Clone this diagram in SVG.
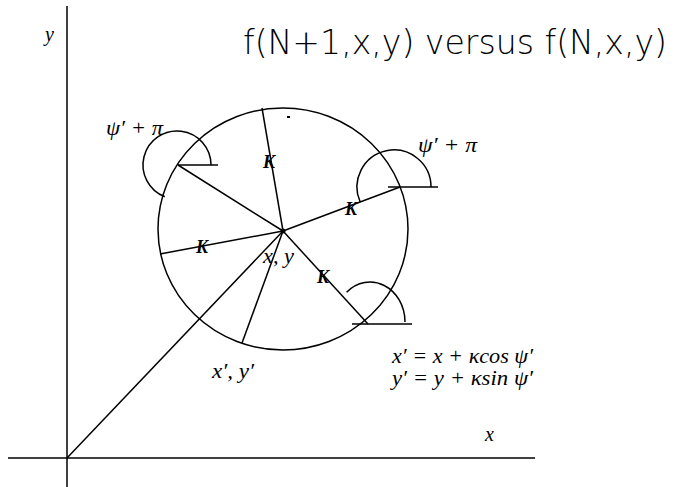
<svg xmlns="http://www.w3.org/2000/svg" width="675" height="487" viewBox="0 0 675 487">
<style>
.ln{stroke:#000;stroke-width:1.5;fill:none}
.lbl{font-family:"Liberation Serif","DejaVu Serif",serif;font-style:italic;font-size:20px;fill:#000}
.k{font-family:"Liberation Serif","DejaVu Serif",serif;font-style:italic;font-weight:bold;font-size:18px;fill:#000}
.title{font-family:"DejaVu Sans","Liberation Sans",sans-serif;font-weight:200;font-size:33px;fill:#000}
</style>
<rect width="675" height="487" fill="#fff"/>
<g id="axes">
<line class="ln" x1="67" y1="6" x2="67" y2="487"/>
<line class="ln" x1="8" y1="458" x2="535" y2="458"/>
<text class="lbl" x="45" y="41">y</text>
<text class="lbl" x="485" y="441">x</text>
</g>
<g id="title"><text class="title" x="243" y="54" textLength="424" lengthAdjust="spacingAndGlyphs">f(N+1,x,y) versus f(N,x,y)</text></g>
<g id="circle">
<ellipse class="ln" cx="283" cy="229" rx="125" ry="121"/>
<circle cx="283" cy="231" r="2.5" fill="#000"/>
<rect x="287" y="116" width="3" height="2" fill="#000"/>
</g>
<g id="connectors">
<line class="ln" x1="67" y1="458" x2="283" y2="231"/>
<line class="ln" x1="283" y1="231" x2="262" y2="108"/>
<line class="ln" x1="283" y1="231" x2="178" y2="165"/>
<line class="ln" x1="283" y1="231" x2="400" y2="187"/>
<line class="ln" x1="283" y1="231" x2="160" y2="254"/>
<line class="ln" x1="283" y1="231" x2="242" y2="343"/>
<line class="ln" x1="283" y1="231" x2="368" y2="324"/>
</g>
<g id="angle-upper-left">
<line class="ln" x1="178" y1="165" x2="218" y2="165"/>
<path class="ln" d="M211,165 A34,34 0 1 0 164.8,196.7"/>
<text class="lbl" x="106" y="135" textLength="57" lengthAdjust="spacingAndGlyphs">ψ′ + π</text>
</g>
<g id="angle-right">
<line class="ln" x1="388" y1="187" x2="438" y2="187"/>
<path class="ln" d="M431,187 A37,37 0 1 0 360.2,202"/>
<text class="lbl" x="418" y="152" textLength="59" lengthAdjust="spacingAndGlyphs">ψ′ + π</text>
</g>
<g id="angle-lower-right">
<line class="ln" x1="352" y1="324" x2="412" y2="324"/>
<path class="ln" d="M405,322 A35,40 0 0 0 346.6,292.3"/>
</g>
<g id="labels">
<text class="k" x="263" y="168">K</text>
<text class="k" x="345" y="215">K</text>
<text class="k" x="196" y="253">K</text>
<text class="k" x="317" y="283">K</text>
<text class="lbl" x="263" y="263" textLength="31" lengthAdjust="spacingAndGlyphs">x, y</text>
<text class="lbl" x="212" y="378" textLength="42" lengthAdjust="spacingAndGlyphs">x′, y′</text>
<text class="lbl" x="392" y="363" textLength="141" lengthAdjust="spacingAndGlyphs">x′ = x + κcos ψ′</text>
<text class="lbl" x="392" y="385" textLength="141" lengthAdjust="spacingAndGlyphs">y′ = y + κsin ψ′</text>
</g>
</svg>
